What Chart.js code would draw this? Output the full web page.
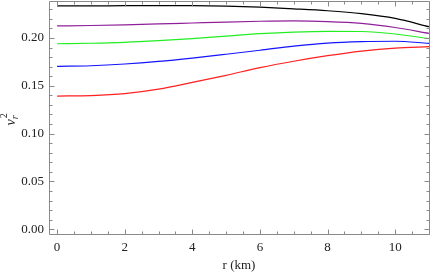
<!DOCTYPE html>
<html>
<head>
<meta charset="utf-8">
<script src="https://cdn.jsdelivr.net/npm/chart.js@4.4.0/dist/chart.umd.min.js"></script>
<style>
  html, body { margin: 0; padding: 0; background: #fff; }
  #box { width: 436px; height: 273px; }
</style>
</head>
<body>
<div id="box"><canvas id="graphique" width="436" height="273"></canvas></div>
<script>
// r (km) sample points
const rValues = [0, 1, 2, 3, 4, 5, 6, 7, 8, 9, 10, 11];

// v_r^2 for each curve
const blackCurve  = [0.2335, 0.2336, 0.2338, 0.2339, 0.2338, 0.2333, 0.2322, 0.2305, 0.2285, 0.2255, 0.2205, 0.2118];
const purpleCurve = [0.2126, 0.2131, 0.2138, 0.2147, 0.2157, 0.2167, 0.2175, 0.2179, 0.2172, 0.2153, 0.2110, 0.2049];
const greenCurve  = [0.1940, 0.1945, 0.1955, 0.1972, 0.1993, 0.2020, 0.2045, 0.2062, 0.2070, 0.2068, 0.2042, 0.1993];
const blueCurve   = [0.1703, 0.1710, 0.1728, 0.1755, 0.1790, 0.1830, 0.1872, 0.1915, 0.1947, 0.1962, 0.1966, 0.1944];
const redCurve    = [0.1393, 0.1398, 0.1418, 0.1465, 0.1535, 0.1610, 0.1690, 0.1757, 0.1815, 0.1863, 0.1895, 0.1909];

// tick labels
const xMajorTicks = [0, 2, 4, 6, 8, 10];
const yMajorTicks = [0.00, 0.05, 0.10, 0.15, 0.20];

function toPoints(values) {
    return rValues.map((r, i) => ({x: r, y: values[i]}));
}

function serie(values, couleur) {
    return {
        data: toPoints(values),
        borderColor: couleur,
        borderWidth: 1.2,
        pointRadius: 0,
        fill: false,
        cubicInterpolationMode: 'monotone'
    };
}

// minor ticks between the majors
function buildTicks(min, max, step) {
    const ticks = [];
    const n = Math.round((max - min) / step);
    for (let i = 0; i <= n; i++) {
        ticks.push({value: +(min + i * step).toFixed(4)});
    }
    return ticks;
}

function isMajor(v, majors) {
    return majors.some(m => Math.abs(m - v) < 1e-6);
}

const frameColor = '#8a8a8a';

// frame on four sides with inward ticks (Mathematica style)
const cadrePlugin = {
    id: 'cadre',
    afterDraw(chart) {
        const {ctx, chartArea: a, scales} = chart;
        ctx.save();
        ctx.strokeStyle = frameColor;
        ctx.lineWidth = 1;
        const L = Math.round(a.left) + 0.5, R = Math.round(a.right) + 0.5;
        const T = Math.round(a.top) + 0.5, B = Math.round(a.bottom) + 0.5;
        ctx.beginPath();
        ctx.rect(L, T, R - L, B - T);
        ctx.stroke();

        ctx.beginPath();
        scales.x.ticks.forEach(t => {
            const px = Math.round(scales.x.getPixelForValue(t.value)) + 0.5;
            const len = isMajor(t.value, xMajorTicks) ? 5 : 3;
            ctx.moveTo(px, B);
            ctx.lineTo(px, B - len);
            ctx.moveTo(px, T);
            ctx.lineTo(px, T + len);
        });
        scales.y.ticks.forEach(t => {
            const py = Math.round(scales.y.getPixelForValue(t.value)) + 0.5;
            const len = isMajor(t.value, yMajorTicks) ? 5 : 3;
            ctx.moveTo(L, py);
            ctx.lineTo(L + len, py);
            ctx.moveTo(R, py);
            ctx.lineTo(R - len, py);
        });
        ctx.stroke();

        // y title: v_r^2
        ctx.translate(15, (a.top + a.bottom) / 2);
        ctx.rotate(-Math.PI / 2);
        ctx.fillStyle = '#222';
        ctx.textBaseline = 'alphabetic';
        ctx.textAlign = 'left';
        ctx.font = 'italic 14px "Liberation Serif"';
        const wv = ctx.measureText('v').width;
        ctx.fillText('v', -8, 0);
        ctx.font = 'italic 10px "Liberation Serif"';
        ctx.fillText('r', -8 + wv, 3);
        ctx.font = '10px "Liberation Serif"';
        ctx.fillText('2', -8 + wv + 1, -8);
        ctx.restore();
    }
};

const graph = document.getElementById('graphique');

new Chart(graph, {
    type: 'line',
    data: {
        datasets: [
            serie(blackCurve, '#000000'),
            serie(purpleCurve, '#8f1f9a'),
            serie(greenCurve, '#22ee22'),
            serie(blueCurve, '#1414ff'),
            serie(redCurve, '#ff2020')
        ]
    },
    options: {
        responsive: false,
        animation: false,
        devicePixelRatio: 1,
        layout: {padding: {top: 1, right: 7, left: 0, bottom: 0}},
        plugins: {
            legend: {display: false},
            tooltip: {enabled: false}
        },
        scales: {
            x: {
                type: 'linear',
                min: -0.24,
                max: 11,
                afterBuildTicks(scale) {
                    scale.ticks = buildTicks(0, 11, 0.5);
                },
                afterFit(scale) {
                    scale.height = 39;
                    scale.paddingLeft = 0;
                    scale.paddingRight = 0;
                },
                grid: {display: false, drawTicks: false},
                border: {display: false},
                ticks: {
                    autoSkip: false,
                    maxRotation: 0,
                    padding: 6,
                    color: '#222',
                    font: {family: 'Liberation Serif', size: 13},
                    callback: v => isMajor(v, xMajorTicks) ? String(Math.round(v)) : ''
                },
                title: {
                    display: true,
                    text: 'r (km)',
                    color: '#222',
                    padding: {top: 4, bottom: 0},
                    font: {family: 'Liberation Serif', size: 13}
                }
            },
            y: {
                type: 'linear',
                min: -0.005,
                max: 0.2387,
                afterBuildTicks(scale) {
                    scale.ticks = buildTicks(0, 0.23, 0.01);
                },
                afterFit(scale) {
                    scale.width = 49;
                    scale.paddingTop = 0;
                    scale.paddingBottom = 0;
                },
                grid: {display: false, drawTicks: false},
                border: {display: false},
                ticks: {
                    autoSkip: false,
                    padding: 5,
                    color: '#222',
                    font: {family: 'Liberation Serif', size: 13},
                    callback: v => isMajor(v, yMajorTicks) ? v.toFixed(2) : ''
                }
            }
        }
    },
    plugins: [cadrePlugin]
});
</script>
</body>
</html>
